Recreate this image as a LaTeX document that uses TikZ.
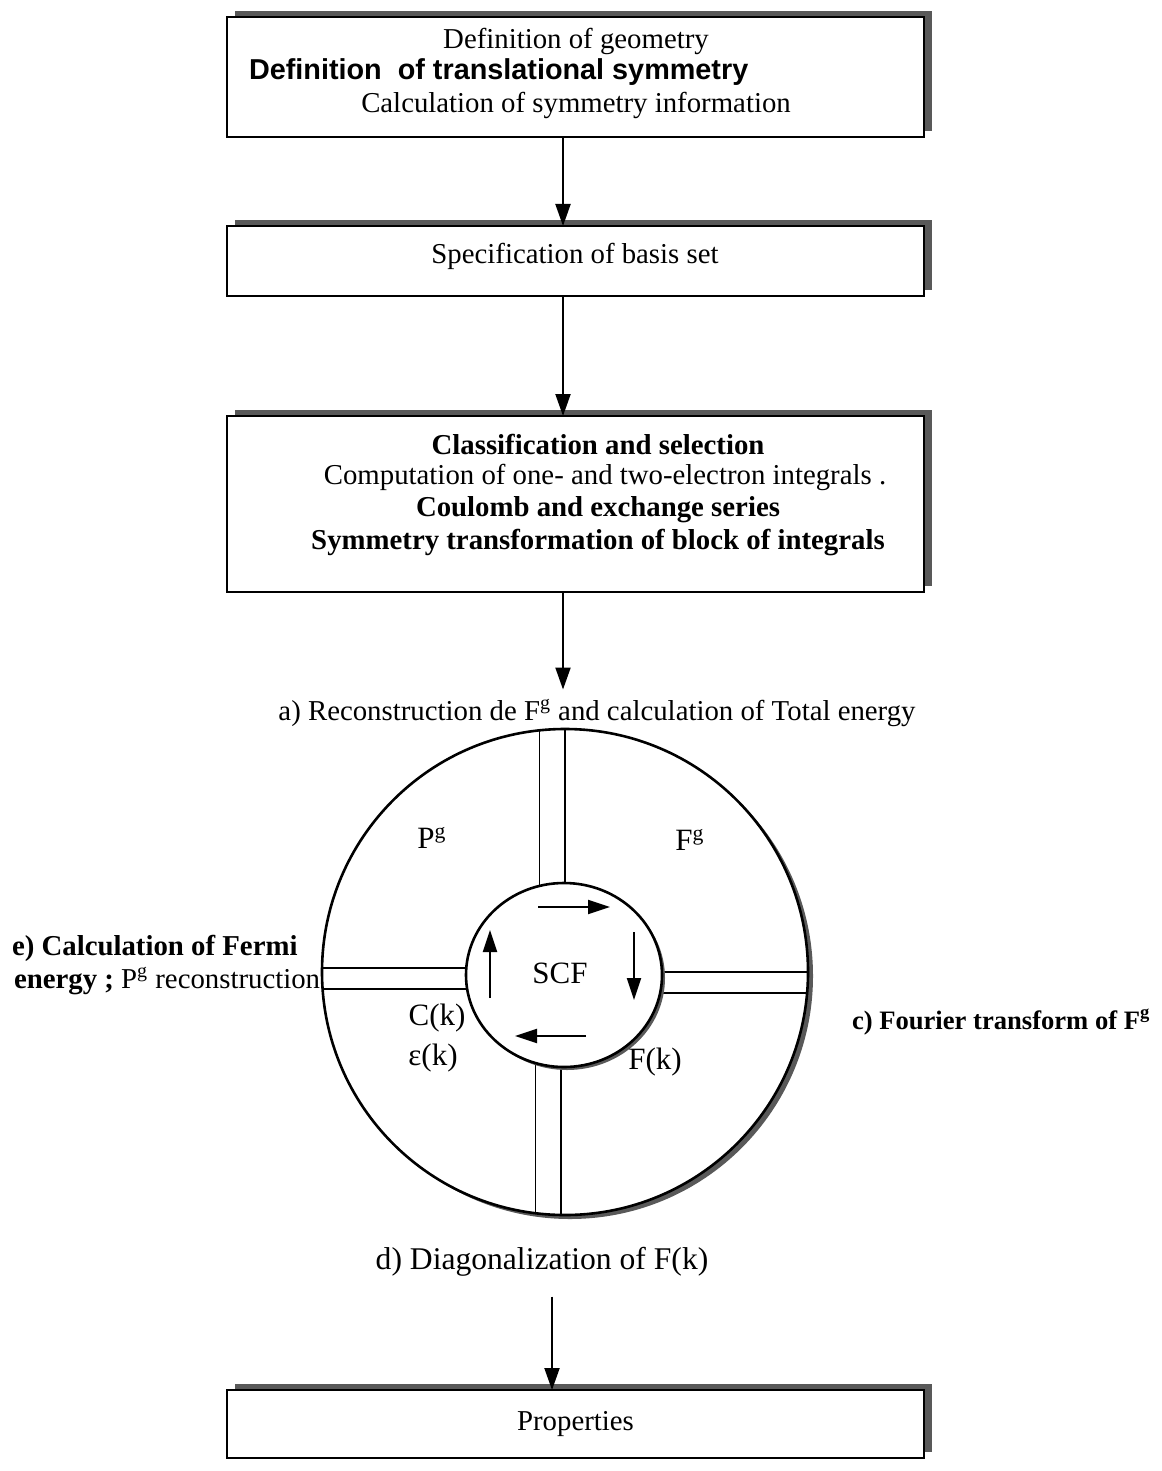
\documentclass[tikz,border=0pt]{standalone}
\usepackage{fontspec}
\setmainfont{Liberation Serif}
\newfontfamily\sansfont{Liberation Sans}
\usetikzlibrary{arrows.meta,shadows,shapes.geometric,calc}
\begin{document}
\begin{tikzpicture}[x=0.5pt,y=-0.5pt,
  every node/.style={font=\fontsize{14.4pt}{17pt}\selectfont, inner sep=0pt, outer sep=0pt},
  flowbox/.style={draw, fill=white, line width=1pt, minimum width=348.5pt,
    drop shadow={shadow xshift=4pt,shadow yshift=3pt,fill=black!65,opacity=1}},
  arr/.style={line width=1pt, -{Triangle[length=11pt,width=7.5pt]}},
  cyc/.style={line width=1pt, -{Triangle[length=11pt,width=7pt]}},
  spoke/.style={line width=0.8pt},
  ring/.style={draw, fill=white, line width=1.3pt},
  cyclabel/.style={font=\fontsize{15.5pt}{18pt}\selectfont},
]
\useasboundingbox (0,0) rectangle (1161,1471);

% boxes
\node[flowbox, minimum height=60pt] (b1) at (575.5,77) {};
\node[flowbox, minimum height=35pt] (b2) at (575.5,261) {};
\node[flowbox, minimum height=88pt] (b3) at (575.5,504) {};
\node[flowbox, minimum height=34pt] (b4) at (575.5,1424) {Properties};

% box texts
\node (g1) at (576,41) {Definition of geometry};
\node[anchor=west] (g2) at (249,72) {\sansfont\bfseries Definition\ \ of translational symmetry};
\node (g3) at (576,105) {Calculation of symmetry information};
\node (s1) at (575,256) {Specification of basis set};
\node (c1) at (598,444) {\bfseries Classification and selection};
\node (c2) at (605,477) {Computation of one- and two-electron integrals .};
\node (c3) at (598,510) {\bfseries Coulomb and exchange series};
\node (c4) at (598,543) {\bfseries Symmetry transformation of block of integrals};

% cycle: outer ring and spokes
\node[ring, circle, minimum size=243pt,
  drop shadow={shadow xshift=2.5pt,shadow yshift=-2pt,fill=black!65,opacity=1}] (oc) at (565,972) {};
\coordinate (icc) at (564,975);
\draw[spoke] (oc.96.4) -- (oc.96.4 |- icc);
\draw[spoke] (oc.90.7) -- (oc.90.7 |- icc);
\draw[spoke] (oc.263.6) -- (oc.263.6 |- icc);
\draw[spoke] (oc.269.3) -- (oc.269.3 |- icc);
\draw[spoke] (oc.179.3) -- (oc.179.3 -| icc);
\draw[spoke] (oc.184.5) -- (oc.184.5 -| icc);
\draw[spoke] (oc.0) -- (oc.0 -| icc);
\draw[spoke] (oc.-5.7) -- (oc.-5.7 -| icc);
% inner ring drawn over the spokes
\node[ring, ellipse, minimum width=98pt, minimum height=92pt,
  drop shadow={shadow xshift=1.5pt,shadow yshift=-1.5pt,fill=black!65,opacity=1}] (ic) at (icc) {};

\coordinate (t1) at (538,907); \coordinate (t2) at (610,907);
\coordinate (r1) at (634,932); \coordinate (r2) at (634,1000);
\coordinate (u1) at (586,1036); \coordinate (u2) at (515,1036);
\coordinate (l1) at (490,998); \coordinate (l2) at (490,930);
\draw[cyc] (t1) -- (t2);
\draw[cyc] (r1) -- (r2);
\draw[cyc] (u1) -- (u2);
\draw[cyc] (l1) -- (l2);

\node[cyclabel] (scf) at (560,973) {SCF};
\node[cyclabel] (pg) at (432,838) {P\textsuperscript{g}};
\node[cyclabel] (fg) at (690,840) {F\textsuperscript{g}};
\node[cyclabel] (ck) at (437,1018) {C(k)};
\node[cyclabel] (ek) at (433,1058) {ε(k)};
\node[cyclabel] (fk) at (655,1062) {F(k)};

% outer labels
\node[inner sep=5pt] (al) at (597,713) {a) Reconstruction de F\textsuperscript{g} and calculation of Total energy};
\node[anchor=west] (e1) at (12,948) {\bfseries e) Calculation of Fermi};
\node[anchor=west] (e2) at (14,981) {\bfseries energy ;\mdseries\ P\textsuperscript{g} reconstruction};
\node[anchor=west, font=\fontsize{13.3pt}{16pt}\selectfont] (cl) at (852,1022) {\bfseries c) Fourier transform of F\textsuperscript{g}};
\node[font=\fontsize{15.8pt}{19pt}\selectfont] (dl) at (542,1262) {d) Diagonalization of F(k)};

% main arrows
\coordinate (ax) at (563,0);
\coordinate (bx) at (552,0);
\coordinate (dtop) at ([yshift=-10pt]dl.south);
\draw[arr] (b1.south -| ax) -- (b2.north -| ax);
\draw[arr] (b2.south -| ax) -- (b3.north -| ax);
\draw[arr] (b3.south -| ax) -- (al.north -| ax);
\draw[arr] (dtop -| bx) -- (b4.north -| bx);
\end{tikzpicture}
\end{document}
